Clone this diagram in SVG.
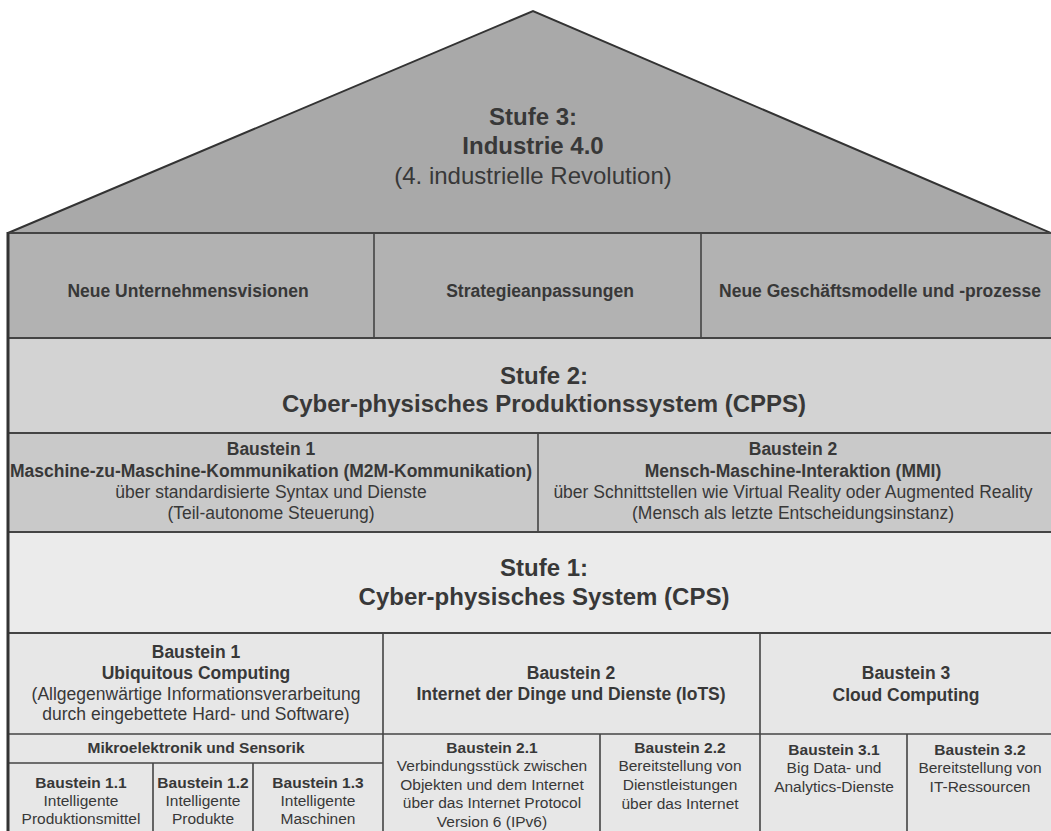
<svg xmlns="http://www.w3.org/2000/svg" width="1051" height="831" viewBox="0 0 1051 831">
<style>
text{font-family:"Liberation Sans",Arial,sans-serif;fill:#383838;text-anchor:middle}
.h{font-size:24px;font-weight:bold}
.hr{font-size:24px}
.b{font-size:17.5px;font-weight:bold}
.r{font-size:17.5px}
.sb{font-size:15.5px;font-weight:bold}
.sr{font-size:15.5px}
.box{stroke:#444;stroke-width:2}
.ln{stroke:#444;stroke-width:1.6;fill:none}
</style>
<rect width="1051" height="831" fill="#ffffff"/>
<g id="roof">
<polygon points="8,233 533,11 1058,236" fill="#a9a9a9" stroke="#333" stroke-width="2"/>
<text class="h" x="533" y="125">Stufe 3:</text>
<text class="h" x="533" y="154">Industrie 4.0</text>
<text class="hr" x="533" y="184">(4. industrielle Revolution)</text>
</g>
<g id="stufe3-row">
<rect class="box" x="8" y="233" width="1060" height="105" fill="#b2b2b2"/>
<g id="visionen"><text class="b" x="188" y="297">Neue Unternehmensvisionen</text></g>
<g id="strategie"><text class="b" x="540" y="297">Strategieanpassungen</text></g>
<g id="geschaeft"><text class="b" x="880" y="297">Neue Geschäftsmodelle und -prozesse</text></g>
</g>
<g id="stufe2">
<rect class="box" x="8" y="338" width="1060" height="95" fill="#d3d3d3"/>
<text class="h" x="544" y="384">Stufe 2:</text>
<text class="h" x="544" y="412">Cyber-physisches Produktionssystem (CPPS)</text>
</g>
<g id="stufe2-bausteine">
<rect class="box" x="8" y="433" width="1060" height="99" fill="#c9c9c9"/>
<g id="m2m">
<text class="b" x="271" y="455">Baustein 1</text>
<text class="b" x="271" y="477">Maschine-zu-Maschine-Kommunikation (M2M-Kommunikation)</text>
<text class="r" x="271" y="498">über standardisierte Syntax und Dienste</text>
<text class="r" x="271" y="519">(Teil-autonome Steuerung)</text>
</g>
<g id="mmi">
<text class="b" x="793" y="455">Baustein 2</text>
<text class="b" x="793" y="477">Mensch-Maschine-Interaktion (MMI)</text>
<text class="r" x="793" y="498">über Schnittstellen wie Virtual Reality oder Augmented Reality</text>
<text class="r" x="793" y="519">(Mensch als letzte Entscheidungsinstanz)</text>
</g>
</g>
<g id="stufe1">
<rect class="box" x="8" y="532" width="1060" height="101" fill="#ebebeb"/>
<text class="h" x="544" y="576">Stufe 1:</text>
<text class="h" x="544" y="605">Cyber-physisches System (CPS)</text>
</g>
<g id="stufe1-bausteine">
<rect class="box" x="8" y="633" width="1060" height="210" fill="#e7e7e7"/>
<g id="ubiquitous">
<text class="b" x="196" y="658">Baustein 1</text>
<text class="b" x="196" y="679">Ubiquitous Computing</text>
<text class="r" x="196" y="700">(Allgegenwärtige Informationsverarbeitung</text>
<text class="r" x="196" y="720">durch eingebettete Hard- und Software)</text>
</g>
<g id="iots">
<text class="b" x="571" y="679">Baustein 2</text>
<text class="b" x="571" y="700">Internet der Dinge und Dienste (IoTS)</text>
</g>
<g id="cloud">
<text class="b" x="906" y="679">Baustein 3</text>
<text class="b" x="906" y="701">Cloud Computing</text>
</g>
<g id="mikro">
<text class="sb" x="196" y="753">Mikroelektronik und Sensorik</text>
</g>
<g id="b11">
<text class="sb" x="81" y="788">Baustein 1.1</text>
<text class="sr" x="81" y="806">Intelligente</text>
<text class="sr" x="81" y="824">Produktionsmittel</text>
</g>
<g id="b12">
<text class="sb" x="203" y="788">Baustein 1.2</text>
<text class="sr" x="203" y="806">Intelligente</text>
<text class="sr" x="203" y="824">Produkte</text>
</g>
<g id="b13">
<text class="sb" x="318" y="788">Baustein 1.3</text>
<text class="sr" x="318" y="806">Intelligente</text>
<text class="sr" x="318" y="824">Maschinen</text>
</g>
<g id="b21">
<text class="sb" x="492" y="753">Baustein 2.1</text>
<text class="sr" x="492" y="771">Verbindungsstück zwischen</text>
<text class="sr" x="492" y="790">Objekten und dem Internet</text>
<text class="sr" x="492" y="808">über das Internet Protocol</text>
<text class="sr" x="492" y="827">Version 6 (IPv6)</text>
</g>
<g id="b22">
<text class="sb" x="680" y="753">Baustein 2.2</text>
<text class="sr" x="680" y="771">Bereitstellung von</text>
<text class="sr" x="680" y="790">Dienstleistungen</text>
<text class="sr" x="680" y="809">über das Internet</text>
</g>
<g id="b31">
<text class="sb" x="834" y="755">Baustein 3.1</text>
<text class="sr" x="834" y="773">Big Data- und</text>
<text class="sr" x="834" y="792">Analytics-Dienste</text>
</g>
<g id="b32">
<text class="sb" x="980" y="755">Baustein 3.2</text>
<text class="sr" x="980" y="773">Bereitstellung von</text>
<text class="sr" x="980" y="792">IT-Ressourcen</text>
</g>
</g>
<g id="connectors">
<line class="ln" x1="374" y1="233" x2="374" y2="338"/>
<line class="ln" x1="701" y1="233" x2="701" y2="338"/>
<line class="ln" x1="538" y1="433" x2="538" y2="532"/>
<line class="ln" x1="383" y1="633" x2="383" y2="831"/>
<line class="ln" x1="760" y1="633" x2="760" y2="831"/>
<line class="ln" x1="8" y1="734" x2="1051" y2="734" stroke-width="2"/>
<line class="ln" x1="8" y1="763" x2="383" y2="763"/>
<line class="ln" x1="153" y1="763" x2="153" y2="831"/>
<line class="ln" x1="253" y1="763" x2="253" y2="831"/>
<line class="ln" x1="600" y1="734" x2="600" y2="831"/>
<line class="ln" x1="907" y1="734" x2="907" y2="831"/>
<line x1="8" y1="232" x2="8" y2="831" stroke="#333" stroke-width="3"/>
</g>
</svg>
